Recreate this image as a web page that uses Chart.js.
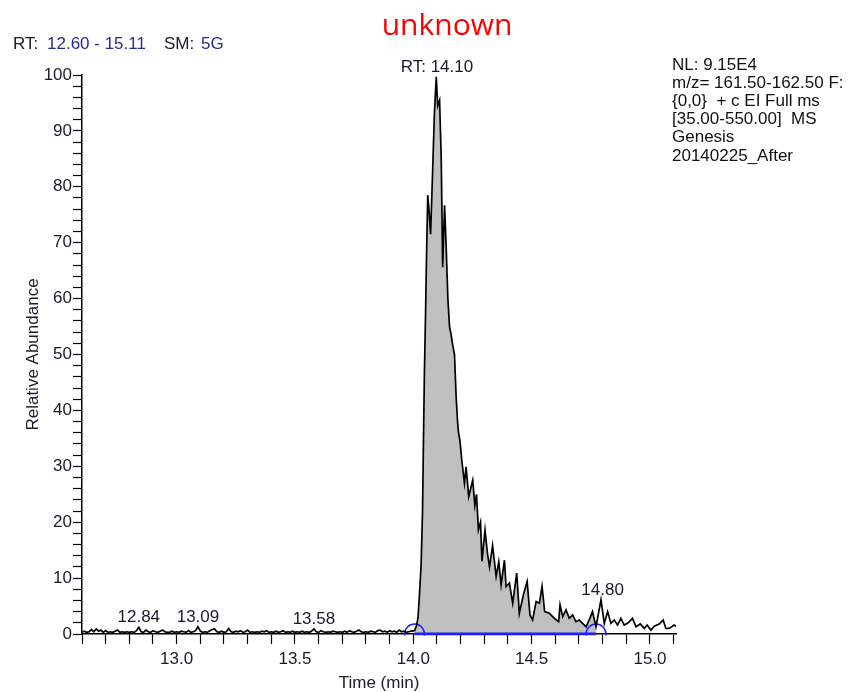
<!DOCTYPE html>
<html><head><meta charset="utf-8">
<script src="https://cdn.jsdelivr.net/npm/chart.js@4"></script>
<style>html,body{margin:0;padding:0;background:#fff;}canvas{display:block;}</style>
</head><body>
<canvas id="c" width="855" height="692"></canvas>
<script>
// ---- data ----
const times = [
  12.60,12.61,12.62,12.63,12.64,12.65,12.66,12.67,12.68,12.69,
  12.70,12.71,12.72,12.73,12.74,12.75,12.76,12.77,12.78,12.79,
  12.80,12.81,12.82,12.83,12.84,12.85,12.86,12.87,12.88,12.89,
  12.90,12.91,12.92,12.93,12.94,12.95,12.96,12.97,12.98,12.99,
  13.00,13.01,13.02,13.03,13.04,13.05,13.06,13.07,13.08,13.09,
  13.10,13.11,13.12,13.13,13.14,13.15,13.16,13.17,13.18,13.19,
  13.20,13.21,13.22,13.23,13.24,13.25,13.26,13.27,13.28,13.29,
  13.30,13.31,13.32,13.33,13.34,13.35,13.36,13.37,13.38,13.39,
  13.40,13.41,13.42,13.43,13.44,13.45,13.46,13.47,13.48,13.49,
  13.50,13.51,13.52,13.53,13.54,13.55,13.56,13.57,13.58,13.59,
  13.60,13.61,13.62,13.63,13.64,13.65,13.66,13.67,13.68,13.69,
  13.70,13.71,13.72,13.73,13.74,13.75,13.76,13.77,13.78,13.79,
  13.80,13.81,13.82,13.83,13.84,13.85,13.86,13.87,13.88,13.89,
  13.90,13.91,13.92,13.93,13.94,13.95,13.96,13.97,13.98,13.99,
  14.005,14.014,14.020,14.026,14.033,14.039,14.043,14.047,14.052,14.056,
  14.061,14.066,14.073,14.081,14.089,14.097,14.103,14.111,14.118,14.124,
  14.132,14.139,14.146,14.153,14.160,14.165,14.174,14.181,14.187,14.191,
  14.197,14.205,14.216,14.223,14.234,14.251,14.260,14.267,14.275,14.284,
  14.290,14.303,14.313,14.322,14.335,14.350,14.361,14.371,14.385,14.392,
  14.406,14.420,14.437,14.448,14.465,14.481,14.493,14.504,14.519,14.533,
  14.544,14.555,14.575,14.596,14.614,14.620,14.631,14.645,14.659,14.673,
  14.687,14.701,14.715,14.730,14.746,14.757,14.772,14.793,14.807,14.821,
  14.835,14.849,14.863,14.877,14.891,14.908,14.926,14.941,14.959,14.976,
  14.988,15.004,15.018,15.039,15.056,15.067,15.081,15.102,15.110
];
const abundance = [
  0.3,0.5,0.3,0.4,0.8,0.4,0.9,0.5,0.7,0.3,
  0.6,0.3,0.4,0.3,0.5,0.7,0.3,0.4,0.3,0.4,
  0.3,0.4,0.3,0.6,1.2,0.4,0.3,0.7,0.4,0.3,
  0.6,0.4,0.3,0.5,0.7,0.4,0.3,0.3,0.5,0.3,
  0.4,0.3,0.5,0.4,0.3,0.6,0.3,0.4,0.6,1.3,
  0.5,0.3,0.4,0.3,0.6,0.8,0.9,0.4,0.3,0.5,
  0.3,0.4,1.0,0.4,0.3,0.5,0.4,0.6,0.3,0.4,
  0.7,0.3,0.4,0.3,0.4,0.3,0.5,0.4,0.6,0.3,
  0.4,0.3,0.5,0.3,0.4,0.6,0.3,0.4,0.3,0.5,
  0.3,0.4,0.3,0.5,0.3,0.4,0.3,0.5,0.9,0.4,
  0.3,0.6,0.4,0.3,0.4,0.3,0.5,0.4,0.3,0.4,
  0.3,0.5,0.3,0.6,0.4,0.3,0.5,0.7,0.4,0.3,
  0.4,0.3,0.5,0.4,0.3,0.6,0.7,0.4,0.5,0.3,
  0.6,0.4,0.5,0.3,0.7,0.4,0.5,0.3,0.4,0.5,
  0.6,1.5,3.0,7.0,12.5,22,35,47,58,68,
  78.5,76,71.5,82,93,99.7,94.5,95.5,85,65.6,
  76.7,69,60,55,53.5,52,50,42.4,38,36,
  34.6,31,27,29.9,24.6,27.5,23,25,18.6,20,
  13,18.6,14.5,12,15.8,10.3,12.9,8.8,13.2,8.5,
  9.1,5.5,10.9,3.7,7.0,9.4,3.4,2.5,5.8,5.5,
  8.5,4.0,3.7,2.8,2.2,5.2,3.1,4.3,2.8,3.4,
  2.2,2.5,1.9,1.3,2.8,4.0,1.3,6.1,1.9,4.0,
  1.9,2.5,1.6,2.8,1.6,2.0,2.8,1.3,1.8,1.0,
  1.6,0.7,1.4,1.8,2.5,1.0,1.0,1.6,1.4
];
const peakStart = 14.005;   // integration start (blue marker)
const peakEnd = 14.772;     // integration end (blue marker)
const peakLabelTimes = [12.84, 13.09, 13.58, 14.10, 14.80];
const peakLabelTexts = ['12.84', '13.09', '13.58', 'RT: 14.10', '14.80'];
const xTickLabels = ['13.0', '13.5', '14.0', '14.5', '15.0'];
const yTickLabels = ['0','10','20','30','40','50','60','70','80','90','100'];
const infoLines = ['NL: 9.15E4', 'm/z= 161.50-162.50 F:', '{0,0}  + c EI Full ms', '[35.00-550.00]  MS', 'Genesis', '20140225_After'];

const trace = times.map((t, i) => ({x: t, y: abundance[i]}));
const integrated = trace.filter(p => p.x >= peakStart - 1e-9 && p.x <= peakEnd + 1e-9);

const FONT = '"Liberation Sans", Arial, sans-serif';

const textPlugin = {
  id: 'texts',
  afterDraw(chart) {
    const ctx = chart.ctx;
    const xs = chart.scales.x, ys = chart.scales.y;
    ctx.save();
    // title
    ctx.font = '30px "Open Sans", sans-serif';
    ctx.fillStyle = '#ff0000';
    ctx.textAlign = 'center';
    ctx.textBaseline = 'alphabetic';
    ctx.fillText('unknown', 447, 35);
    // header
    ctx.font = '17px ' + FONT;
    ctx.textAlign = 'left';
    const hdr = [['RT:', '#1a1a2a', 13], ['12.60 - 15.11', '#2a2a90', 47], ['SM:', '#1a1a2a', 164], ['5G', '#2a2a90', 201]];
    hdr.forEach(([s, c, x]) => { ctx.fillStyle = c; ctx.fillText(s, x, 49); });
    // info block
    ctx.fillStyle = '#111';
    infoLines.forEach((s, i) => ctx.fillText(s, 672, 69.5 + i * 18.2));
    // peak labels
    ctx.textAlign = 'center';
    ctx.fillStyle = '#1a1a2a';
    peakLabelTimes.forEach((t, k) => {
      let m = 0;
      times.forEach((tt, i) => { if (Math.abs(tt - t) <= 0.012) m = Math.max(m, abundance[i]); });
      ctx.fillText(peakLabelTexts[k], xs.getPixelForValue(t), ys.getPixelForValue(m) - 5);
    });
    ctx.restore();
  }
};

new Chart(document.getElementById('c'), {
  type: 'line',
  data: {
    datasets: [
      { data: trace, borderColor: '#000', borderWidth: 1.7, pointRadius: 0, fill: false, tension: 0, order: 0 },
      { data: [{x: peakStart, y: 0}, {x: peakEnd, y: 0}], borderColor: '#1e1eff', borderWidth: 3,
        pointRadius: 10, pointStyle: 'circle', pointBackgroundColor: 'rgba(0,0,0,0)', pointBorderColor: '#1e1eff',
        pointBorderWidth: 1.5, fill: false, order: 1, clip: {left: 12, right: 12, top: 0, bottom: 1.5} },
      { data: integrated, borderWidth: 0, borderColor: 'rgba(0,0,0,0)', backgroundColor: '#c0c0c0',
        pointRadius: 0, fill: 'origin', tension: 0, order: 2 }
    ]
  },
  options: {
    responsive: false,
    animation: false,
    devicePixelRatio: 1,
    layout: { padding: { left: 0, top: 75, right: 179, bottom: 0 } },
    plugins: { legend: { display: false }, tooltip: { enabled: false }, title: { display: false } },
    scales: {
      x: {
        type: 'linear', min: 12.6, max: 15.11,
        afterFit: s => { s.height = 58; },
        border: { display: true, color: '#000', width: 1.5 },
        grid: { drawOnChartArea: false, drawTicks: true, tickLength: 10, tickColor: '#000', tickWidth: 1.2 },
        ticks: {
          stepSize: 0.1, includeBounds: false, autoSkip: false, maxRotation: 0, minRotation: 0,
          padding: 5, color: '#1a1a2a', font: { family: FONT, size: 17 },
          callback: v => { const s = Number(v).toFixed(1); return (Math.abs(v * 2 - Math.round(v * 2)) < 1e-6 && xTickLabels.includes(s)) ? s : ''; }
        },
        title: { display: true, text: 'Time (min)', color: '#1a1a2a', font: { family: FONT, size: 17 }, padding: { top: 0, bottom: -2 } }
      },
      y: {
        type: 'linear', min: 0, max: 100,
        afterFit: s => { s.width = 82; },
        border: { display: true, color: '#000', width: 1.5 },
        grid: { drawOnChartArea: false, drawTicks: true, tickLength: 9, tickColor: '#000', tickWidth: 1.2 },
        ticks: {
          stepSize: 2, autoSkip: false, padding: 1, color: '#1a1a2a', font: { family: FONT, size: 17 },
          callback: v => { const s = String(Math.round(v)); return (Math.round(v) % 10 === 0 && yTickLabels.includes(s)) ? s : ''; }
        },
        title: { display: true, text: 'Relative Abundance', color: '#1a1a2a', font: { family: FONT, size: 17 }, padding: { top: 23, bottom: 0 } }
      }
    }
  },
  plugins: [textPlugin]
});
</script>
</body></html>
